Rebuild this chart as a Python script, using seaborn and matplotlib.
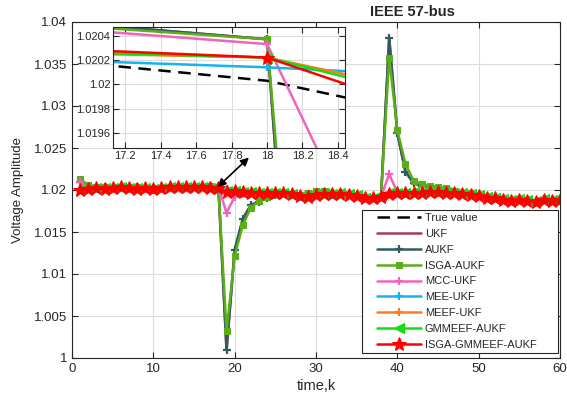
import numpy as np
import pandas as pd
import matplotlib
matplotlib.use("Agg")
import matplotlib.pyplot as plt
import seaborn as sns
from matplotlib.patches import Rectangle, FancyArrowPatch

sns.set_style("ticks")
plt.rcParams["font.family"] = ["Liberation Sans", "DejaVu Sans"]

k = list(range(1, 61))

true_value = [1.0201, 1.0200, 1.0201, 1.0202, 1.0201, 1.0202, 1.0201, 1.0202, 1.0201, 1.0200,
              1.0201, 1.0202, 1.0203, 1.0202, 1.0203, 1.0203, 1.02017, 1.02003, 1.01972, 1.0198,
              1.0197, 1.0196, 1.0196, 1.0195, 1.0196, 1.0195, 1.0194, 1.0192, 1.0192, 1.0194,
              1.0195, 1.0194, 1.0195, 1.0194, 1.0193, 1.0190, 1.0190, 1.0192, 1.0195, 1.0196,
              1.0195, 1.0197, 1.0197, 1.0198, 1.0197, 1.0197, 1.0196, 1.0195, 1.0194, 1.0193,
              1.0191, 1.0190, 1.0188, 1.0187, 1.0188, 1.0187, 1.0186, 1.0188, 1.0187, 1.0188]

ukf = [1.0210, 1.0204, 1.0202, 1.0203, 1.0202, 1.0203, 1.0202, 1.0203, 1.0202, 1.0201,
       1.0202, 1.0203, 1.0204, 1.0203, 1.0204, 1.0204, 1.02049, 1.02037, 1.00095, 1.01286,
       1.01655, 1.01822, 1.01861, 1.0191, 1.0194, 1.0195, 1.0195, 1.0193, 1.0194, 1.0196,
       1.0197, 1.0196, 1.0196, 1.0195, 1.0194, 1.0191, 1.0191, 1.0193, 1.0381, 1.02675,
       1.02218, 1.0208, 1.0205, 1.0204, 1.0202, 1.0201, 1.0198, 1.0196, 1.0195, 1.0194,
       1.0192, 1.0190, 1.0189, 1.0188, 1.0189, 1.0188, 1.0187, 1.0189, 1.0188, 1.0189]

aukf = [1.0210, 1.0204, 1.0202, 1.0203, 1.0202, 1.0203, 1.0202, 1.0203, 1.0202, 1.0201,
        1.0202, 1.0203, 1.0204, 1.0203, 1.0204, 1.0204, 1.02049, 1.02037, 1.00095, 1.01286,
        1.01655, 1.01822, 1.01861, 1.0191, 1.0194, 1.0195, 1.0195, 1.0193, 1.0194, 1.0196,
        1.0197, 1.0196, 1.0196, 1.0195, 1.0194, 1.0191, 1.0191, 1.0193, 1.0381, 1.02675,
        1.02218, 1.0208, 1.0205, 1.0204, 1.0202, 1.0201, 1.0198, 1.0196, 1.0195, 1.0194,
        1.0192, 1.0190, 1.0189, 1.0188, 1.0189, 1.0188, 1.0187, 1.0189, 1.0188, 1.0189]

isga_aukf = [1.0213, 1.0206, 1.0203, 1.0203, 1.0202, 1.0203, 1.0203, 1.0203, 1.0202, 1.0202,
             1.0202, 1.0203, 1.0204, 1.0203, 1.0204, 1.0204, 1.02047, 1.02037, 1.00322, 1.01214,
             1.01583, 1.0179, 1.0187, 1.0192, 1.0195, 1.0196, 1.0195, 1.0194, 1.0196, 1.0199,
             1.0199, 1.0197, 1.0196, 1.0195, 1.0194, 1.0192, 1.0191, 1.0193, 1.03575, 1.02714,
             1.0231, 1.02111, 1.0207, 1.0205, 1.0204, 1.0202, 1.0199, 1.0197, 1.0196, 1.0194,
             1.0192, 1.0191, 1.0189, 1.0188, 1.0189, 1.0188, 1.0185, 1.0188, 1.0187, 1.0189]

mcc_ukf = [1.0209, 1.0203, 1.0202, 1.0202, 1.0202, 1.0202, 1.0202, 1.0202, 1.0201, 1.0201,
           1.0202, 1.0203, 1.0203, 1.0203, 1.0203, 1.0204, 1.02044, 1.02033, 1.01729, 1.0192,
           1.0195, 1.0196, 1.0196, 1.0195, 1.0196, 1.0195, 1.0194, 1.0192, 1.0192, 1.0194,
           1.0195, 1.0194, 1.0195, 1.0194, 1.0193, 1.0190, 1.0190, 1.0192, 1.0219, 1.0197,
           1.0196, 1.0197, 1.0197, 1.0198, 1.0197, 1.0197, 1.0196, 1.0195, 1.0194, 1.0193,
           1.0191, 1.0190, 1.0188, 1.0187, 1.0188, 1.0187, 1.0185, 1.0188, 1.0187, 1.0188]

mee_ukf = [1.0200, 1.0201, 1.0201, 1.0202, 1.0201, 1.0202, 1.0201, 1.0202, 1.0201, 1.0200,
           1.0201, 1.0202, 1.0203, 1.0202, 1.0203, 1.0203, 1.02019, 1.02014, 1.02007, 1.0199,
           1.0198, 1.0197, 1.0196, 1.0195, 1.0196, 1.0195, 1.0194, 1.0192, 1.0192, 1.0194,
           1.0195, 1.0194, 1.0195, 1.0194, 1.0193, 1.0190, 1.0190, 1.0192, 1.0195, 1.0196,
           1.0195, 1.0197, 1.0197, 1.0198, 1.0197, 1.0197, 1.0196, 1.0195, 1.0194, 1.0193,
           1.0191, 1.0190, 1.0188, 1.0187, 1.0188, 1.0187, 1.0186, 1.0188, 1.0187, 1.0188]

meef_ukf = [1.0200, 1.0201, 1.0202, 1.0202, 1.0201, 1.0202, 1.0202, 1.0202, 1.0201, 1.0201,
            1.0201, 1.0202, 1.0203, 1.0203, 1.0203, 1.0203, 1.02025, 1.02022, 1.01991, 1.0199,
            1.0198, 1.0197, 1.0196, 1.0196, 1.0196, 1.0195, 1.0194, 1.0193, 1.0192, 1.0194,
            1.0195, 1.0195, 1.0195, 1.0194, 1.0193, 1.0191, 1.0190, 1.0192, 1.0195, 1.0196,
            1.0196, 1.0197, 1.0197, 1.0198, 1.0197, 1.0197, 1.0196, 1.0195, 1.0194, 1.0193,
            1.0191, 1.0190, 1.0188, 1.0187, 1.0188, 1.0187, 1.0186, 1.0188, 1.0187, 1.0188]

gmmeef_aukf = [1.0201, 1.0201, 1.0202, 1.0202, 1.0202, 1.0203, 1.0202, 1.0202, 1.0202, 1.0201,
               1.0202, 1.0203, 1.0204, 1.0203, 1.0204, 1.0204, 1.02026, 1.02022, 1.01986, 1.0199,
               1.0198, 1.0198, 1.0197, 1.0196, 1.0197, 1.0196, 1.0195, 1.0193, 1.0193, 1.0195,
               1.0196, 1.0195, 1.0196, 1.0195, 1.0194, 1.0191, 1.0191, 1.0193, 1.0196, 1.0197,
               1.0196, 1.0198, 1.0198, 1.0199, 1.0198, 1.0198, 1.0197, 1.0196, 1.0195, 1.0194,
               1.0192, 1.0191, 1.0189, 1.0188, 1.0189, 1.0188, 1.0187, 1.0189, 1.0188, 1.0189]

isga_gmmeef_aukf = [1.0200, 1.0201, 1.0202, 1.0201, 1.0202, 1.0203, 1.0202, 1.0201, 1.0202, 1.0201,
                    1.0202, 1.0203, 1.0204, 1.0203, 1.0204, 1.0204, 1.02028, 1.02022, 1.01973, 1.0199,
                    1.0198, 1.0197, 1.0197, 1.0196, 1.0196, 1.0196, 1.0195, 1.0193, 1.0192, 1.0194,
                    1.0195, 1.0195, 1.0195, 1.0194, 1.0193, 1.0190, 1.0190, 1.0192, 1.0195, 1.0196,
                    1.0196, 1.0197, 1.0197, 1.0198, 1.0198, 1.0197, 1.0196, 1.0195, 1.0194, 1.0193,
                    1.0191, 1.0190, 1.0188, 1.0187, 1.0188, 1.0187, 1.0186, 1.0188, 1.0187, 1.0188]

labels = ["True value", "UKF", "AUKF", "ISGA-AUKF", "MCC-UKF", "MEE-UKF",
          "MEEF-UKF", "GMMEEF-AUKF", "ISGA-GMMEEF-AUKF"]
series = [true_value, ukf, aukf, isga_aukf, mcc_ukf, mee_ukf, meef_ukf, gmmeef_aukf, isga_gmmeef_aukf]
colors = ["#000000", "#A03C5A", "#325A64", "#5AAF19", "#F064BE", "#14B4F0",
          "#FF7D1E", "#10E010", "#FF0000"]
markers = [None, None, "+", "s", "+", "+", "+", "<", "*"]
msizes = [0, 0, 6, 5, 6, 6, 6, 7, 10]

xticks = [0, 10, 20, 30, 40, 50, 60]
yticks = [1.0, 1.005, 1.01, 1.015, 1.02, 1.025, 1.03, 1.035, 1.04]
ytick_labels = ["1", "1.005", "1.01", "1.015", "1.02", "1.025", "1.03", "1.035", "1.04"]
in_xticks = [17.2, 17.4, 17.6, 17.8, 18.0, 18.2, 18.4]
in_xtick_labels = ["17.2", "17.4", "17.6", "17.8", "18", "18.2", "18.4"]
in_yticks = [1.0196, 1.0198, 1.0200, 1.0202, 1.0204]
in_ytick_labels = ["1.0196", "1.0198", "1.02", "1.0202", "1.0204"]

W, H = 567, 403
fig = plt.figure(figsize=(W / 100, H / 100), dpi=100)
ax = fig.add_axes([72 / W, 1 - 358 / H, 488 / W, 336 / H])
axin = fig.add_axes([113 / W, 1 - 148 / H, 232 / W, 121 / H])


def draw(a):
    for lab, vals, c, m, ms in zip(labels, series, colors, markers, msizes):
        kw = dict(color=c, linewidth=1.8, label=lab, legend=False)
        if m is not None:
            kw.update(marker=m, markersize=ms, markeredgewidth=1.6 if m == "+" else 0.8,
                      markeredgecolor=c, markerfacecolor=c)
        if lab == "True value":
            kw.update(dashes=(5, 3))
        sns.lineplot(x=k, y=vals, ax=a, **kw)


def style(a, fs):
    a.grid(True, color="#DCDCDC", linewidth=0.8)
    a.tick_params(direction="in", top=True, right=True, length=4, width=0.8,
                  labelsize=fs, colors="#262626")
    for s in a.spines.values():
        s.set_color("#262626")
        s.set_linewidth(0.8)
    a.set_facecolor("white")


draw(ax)
style(ax, 9.5)
ax.set_xlim(0, 60)
ax.set_ylim(1.0, 1.04)
ax.set_xticks(xticks)
ax.set_xticklabels([str(v) for v in xticks])
ax.set_yticks(yticks)
ax.set_yticklabels(ytick_labels)
ax.set_xlabel("time,k", fontsize=10.5, color="#262626", labelpad=3)
ax.set_ylabel("Voltage Amplitude", fontsize=9.5, color="#262626", labelpad=7)

draw(axin)
style(axin, 8)
axin.set_xlim(17.13, 18.44)
axin.set_ylim(1.01948, 1.02047)
axin.set_xticks(in_xticks)
axin.set_xticklabels(in_xtick_labels)
axin.set_yticks(in_yticks)
axin.set_yticklabels(in_ytick_labels)
axin.set_xlabel("")
axin.set_ylabel("")
axin.tick_params(pad=2)

# legend box
ax.add_patch(Rectangle((0.594, 0.015), 0.402, 0.4255, transform=ax.transAxes,
                       facecolor="white", edgecolor="#262626", linewidth=0.8, zorder=4.5))
handles = ax.get_lines()[:len(labels)]
leg = ax.legend(handles, labels, loc="upper left", bbox_to_anchor=(0.625, 0.432),
                frameon=False, fontsize=8, handlelength=4.0, handletextpad=0.3,
                labelspacing=0.53, borderpad=0, borderaxespad=0, numpoints=1)
leg.set_zorder(5)

arrow = FancyArrowPatch((17.65, 1.02012), (22.0, 1.0241), transform=ax.transData,
                        arrowstyle="<|-|>", mutation_scale=12, color="black", linewidth=1.2)
fig.add_artist(arrow)

fig.text(412 / W, 1 - 12 / H, "IEEE 57-bus", fontsize=10.5, fontweight="bold",
         ha="center", va="center", color="#262626")

fig.savefig("out.png", dpi=100)
